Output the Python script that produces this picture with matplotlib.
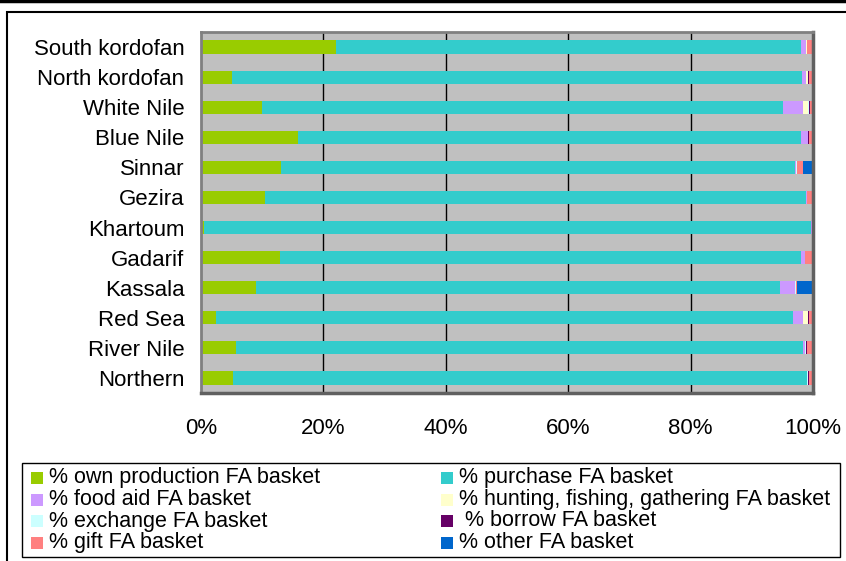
import matplotlib
matplotlib.use('Agg')
import matplotlib.pyplot as plt
from matplotlib.patches import Rectangle
from matplotlib.lines import Line2D
import numpy as np

plt.rcParams['font.family'] = ['Liberation Sans', 'DejaVu Sans']

# states, top to bottom
states = ['South kordofan', 'North kordofan', 'White Nile', 'Blue Nile', 'Sinnar',
          'Gezira', 'Khartoum', 'Gadarif', 'Kassala', 'Red Sea', 'River Nile', 'Northern']

# share of food access basket by source (%), same order as states
own_production = [22.0, 5.1, 9.9, 15.8, 13.1, 10.5, 0.5, 12.9, 9.0, 2.4, 5.7, 5.2]
purchase = [76.1, 93.1, 85.2, 82.2, 84.0, 88.4, 99.1, 85.1, 85.6, 94.3, 92.7, 93.8]
food_aid = [0.7, 0.65, 3.3, 1.15, 0.2, 0.2, 0.4, 0.7, 2.5, 1.6, 0.3, 0.0]
hunting = [0.2, 0.45, 0.8, 0.0, 0.0, 0.0, 0.0, 0.0, 0.0, 0.9, 0.0, 0.0]
exchange = [0.0, 0.0, 0.1, 0.0, 0.1, 0.0, 0.0, 0.0, 0.15, 0.0, 0.15, 0.2]
borrow = [0.0, 0.15, 0.15, 0.2, 0.0, 0.0, 0.0, 0.0, 0.0, 0.15, 0.2, 0.2]
gift = [0.8, 0.4, 0.55, 0.65, 1.0, 0.75, 0.0, 1.3, 0.2, 0.45, 0.8, 0.6]
other = [0.2, 0.2, 0.0, 0.0, 1.6, 0.15, 0.0, 0.0, 2.6, 0.2, 0.15, 0.0]

series = [
    ('% own production FA basket', own_production, '#99CC00'),
    ('% purchase FA basket', purchase, '#33CCCC'),
    ('% food aid FA basket', food_aid, '#CC99FF'),
    ('% hunting, fishing, gathering FA basket', hunting, '#FFFFCC'),
    ('% exchange FA basket', exchange, '#CCFFFF'),
    (' % borrow FA basket', borrow, '#660066'),
    ('% gift FA basket', gift, '#FF8080'),
    ('% other FA basket', other, '#0066CC'),
]

W, H = 846, 561
fig = plt.figure(figsize=(W / 100, H / 100), dpi=100)
ax = fig.add_axes([201 / W, 1 - 393 / H, 612 / W, 361 / H])
ax.set_facecolor('#C0C0C0')

# normalise each row to 100%
data = np.array([s[1] for s in series], dtype=float)
data = data / data.sum(axis=0) * 100

y = np.arange(len(states))
left = np.zeros(len(states))
for (label, _, color), vals in zip(series, data):
    ax.barh(y, vals, left=left, height=0.44, color=color, edgecolor='none', zorder=2)
    left += vals

ax.set_xlim(0, 100)
ax.set_ylim(len(states) - 0.5, -0.5)
ax.set_yticks(y)
ax.set_yticklabels(states, fontsize=16)
ax.set_xticks([0, 20, 40, 60, 80, 100])
ax.set_xticklabels(['0%', '20%', '40%', '60%', '80%', '100%'], fontsize=16)
ax.tick_params(axis='x', length=0, pad=18)
ax.tick_params(axis='y', length=0, pad=12)
for xv in [20, 40, 60, 80]:
    ax.axvline(xv, color='black', lw=1, zorder=1)
for side in ['top', 'left']:
    ax.spines[side].set_color('#808080')
    ax.spines[side].set_linewidth(2)
for side in ['right', 'bottom']:
    ax.spines[side].set_color('#606060')
    ax.spines[side].set_linewidth(2.5)

# legend: two columns, filled row by row
fig.patches.append(Rectangle((22 / W, 1 - 557 / H), 818 / W, 94 / H,
                             transform=fig.transFigure, fill=False,
                             edgecolor='black', lw=1))
col_x = [31, 441]
row_y = [478, 499.5, 521, 542.5]
for i, (label, _, color) in enumerate(series):
    cx = col_x[i % 2]
    cy = row_y[i // 2]
    fig.patches.append(Rectangle((cx / W, 1 - (cy + 6) / H), 12 / W, 12 / H,
                                 transform=fig.transFigure, facecolor=color,
                                 edgecolor='none'))
    fig.text((cx + 18) / W, 1 - cy / H, label, fontsize=15.5, va='center', ha='left')

# outer chart frame and top rule
fig.patches.append(Rectangle((7 / W, -0.01), 1.0, 1 - 12 / H + 0.01,
                             transform=fig.transFigure, fill=False,
                             edgecolor='black', lw=1.5))
fig.lines.append(Line2D([0, 1], [1 - 1 / H, 1 - 1 / H], transform=fig.transFigure,
                        color='black', lw=2.5))

fig.savefig('out.png', dpi=100)
